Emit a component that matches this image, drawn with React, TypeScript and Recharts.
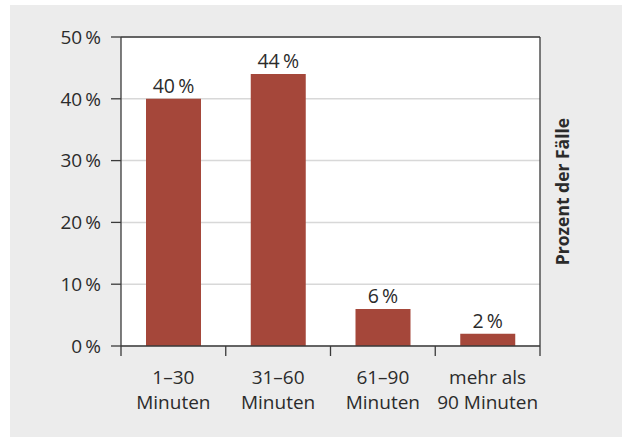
import React from 'react';
import { BarChart, Bar, XAxis, YAxis, CartesianGrid, LabelList, ReferenceLine } from 'recharts';

const categories = ['1–30\nMinuten', '31–60\nMinuten', '61–90\nMinuten', 'mehr als\n90 Minuten'];
const values = [40, 44, 6, 2];
const yTicks = [0, 10, 20, 30, 40, 50];
const yLabel = 'Prozent der Fälle';

const data = categories.map((c, i) => ({ name: c, value: values[i] }));

const FONT = '"Open Sans", sans-serif';
const TEXT = '#2b2b2b';
const AXIS = '#3a3a3a';

const XTick = (props: any) => {
  const { x, y, payload, index, visibleTicksCount } = props;
  const half = typeof payload.offset === 'number' && payload.offset > 0 ? payload.offset : 52.4;
  const lines = String(payload.value).split('\n');
  return (
    <g>
      <line x1={x - half} x2={x - half} y1={y} y2={y + 10} stroke={AXIS} strokeWidth={1.3} />
      {index === visibleTicksCount - 1 && (
        <line x1={x + half} x2={x + half} y1={y} y2={y + 10} stroke={AXIS} strokeWidth={1.3} />
      )}
      <text x={x} y={y} textAnchor="middle" fill={TEXT} fontFamily={FONT} fontSize={19}>
        {lines.map((l, i) => (
          <tspan key={i} x={x} dy={i === 0 ? 38 : 25}>
            {l}
          </tspan>
        ))}
      </text>
    </g>
  );
};

export default function App() {
  return (
    <div style={{ position: 'absolute', left: 10, top: 5, width: 612, height: 432, background: '#ececec' }}>
      <BarChart width={612} height={432} data={data} margin={{ top: 32, right: 36, bottom: 0, left: 0 }}>
        <CartesianGrid vertical={false} stroke="#d8d8d8" strokeWidth={1.5} fill="#ffffff" />
        <XAxis
          dataKey="name"
          height={91}
          tickSize={0}
          tickMargin={0}
          tickLine={false}
          axisLine={{ stroke: AXIS, strokeWidth: 1.3 }}
          tick={<XTick />}
          interval={0}
        />
        <YAxis
          width={111}
          domain={[0, 50]}
          ticks={yTicks}
          tickSize={10}
          tickMargin={10}
          interval={0}
          tickFormatter={(v: number) => `${v}\u2009%`}
          tick={{ fill: TEXT, fontFamily: FONT, fontSize: 19 }}
          tickLine={{ stroke: AXIS, strokeWidth: 1.3 }}
          axisLine={{ stroke: AXIS, strokeWidth: 1.3 }}
        />
        <YAxis
          yAxisId="r"
          orientation="right"
          width={46}
          domain={[0, 50]}
          tick={false}
          tickLine={false}
          axisLine={{ stroke: AXIS, strokeWidth: 1.3 }}
          label={{
            value: yLabel,
            angle: -90,
            position: 'center',
            style: { fill: TEXT, fontFamily: FONT, fontSize: 17.5, fontWeight: 700 },
          }}
        />
        <ReferenceLine y={50} stroke={AXIS} strokeWidth={1.3} />
        <Bar dataKey="value" fill="#a5473a" barSize={55} isAnimationActive={false}>
          <LabelList
            dataKey="value"
            position="top"
            offset={6}
            formatter={(v: any) => `${v}\u2009%`}
            style={{ fill: TEXT, fontFamily: FONT, fontSize: 19.5 }}
          />
        </Bar>
      </BarChart>
    </div>
  );
}
